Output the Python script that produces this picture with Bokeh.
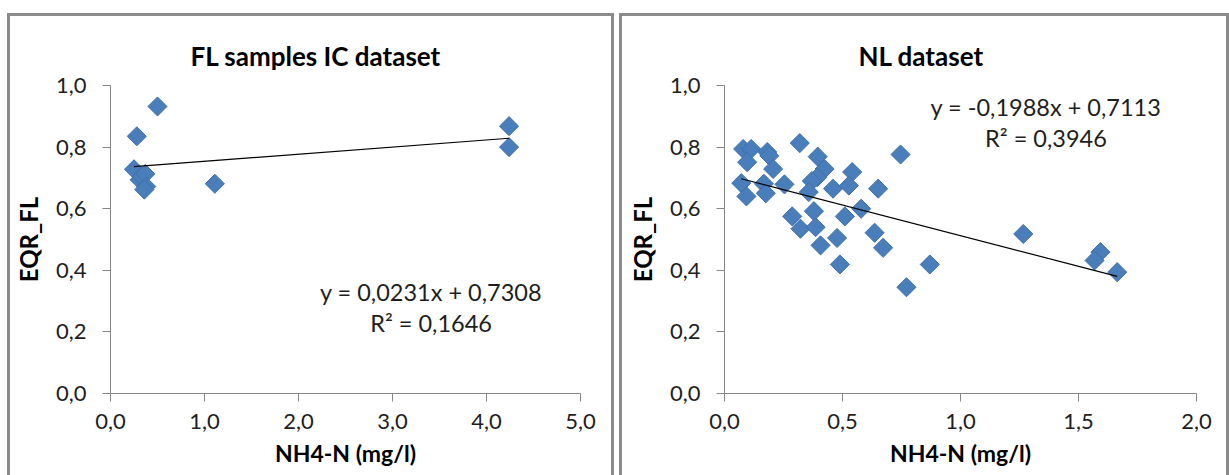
from bokeh.plotting import figure
from bokeh.models import Label, FixedTicker, CustomJSTickFormatter, Range1d, Spacer
from bokeh.layouts import row, column
from bokeh.embed import file_html
from bokeh.resources import INLINE

# ---- data ----
fl_x = [0.25, 0.28, 0.31, 0.33, 0.37, 0.38, 0.36, 0.50, 1.11, 4.24, 4.24]
fl_y = [0.728, 0.835, 0.694, 0.705, 0.713, 0.672, 0.662, 0.932, 0.681, 0.868, 0.800]
fl_slope, fl_intercept, fl_r2 = 0.0231, 0.7308, 0.1646

nl_x = [0.079, 0.113, 0.181, 0.190, 0.096, 0.319, 0.395, 0.206, 0.424, 0.541, 0.393,
        0.370, 0.071, 0.167, 0.254, 0.460, 0.527, 0.651, 0.093, 0.175, 0.357, 0.579,
        0.287, 0.379, 0.510, 0.322, 0.386, 0.636, 0.477, 0.407, 0.672, 0.489, 0.870,
        0.746, 0.771, 1.266, 1.593, 1.568, 1.664]
nl_y = [0.794, 0.794, 0.784, 0.772, 0.751, 0.813, 0.769, 0.729, 0.729, 0.719, 0.702,
        0.690, 0.683, 0.681, 0.679, 0.665, 0.675, 0.665, 0.640, 0.650, 0.654, 0.600,
        0.575, 0.592, 0.575, 0.535, 0.540, 0.522, 0.505, 0.481, 0.473, 0.419, 0.419,
        0.776, 0.345, 0.518, 0.459, 0.432, 0.394]
nl_slope, nl_intercept, nl_r2 = -0.1988, 0.7113, 0.3946

fl_xticks = [0.0, 1.0, 2.0, 3.0, 4.0, 5.0]
nl_xticks = [0.0, 0.5, 1.0, 1.5, 2.0]
yticks = [0.0, 0.2, 0.4, 0.6, 0.8, 1.0]
x_title = "NH4-N (mg/l)"
y_title = "EQR_FL"

FONT = "Lato"
fmt = CustomJSTickFormatter(code="return tick.toFixed(1).replace('.', ',');")


def fmt_num(v):
    return ("%.4f" % v).replace(".", ",")


def make_panel(title, xs, ys, slope, intercept, r2, xmax, xticks, width,
               ml, mr, title_offset, eq_x, eq_y, r2_y):
    p = figure(width=width, height=459, output_backend="svg", toolbar_location=None,
               x_range=Range1d(0, xmax), y_range=Range1d(0, 1.0),
               min_border_left=ml, min_border_right=mr, min_border_top=69,
               min_border_bottom=82,
               styles={"outline": "3px solid #8a8a8a"})
    p.outline_line_color = None
    p.grid.visible = False
    p.title.text = title
    p.title.text_font = FONT
    p.title.text_font_size = "26px"
    p.title.text_font_style = "bold"
    p.title.align = "left"
    p.title.offset = title_offset
    p.title.standoff = 28
    p.title.text_color = "black"

    for ax in (p.xaxis[0], p.yaxis[0]):
        ax.axis_line_color = "#868686"
        ax.major_tick_line_color = "#868686"
        ax.minor_tick_line_color = None
        ax.major_tick_out = 8
        ax.major_tick_in = 0
        ax.major_label_text_font = FONT
        ax.major_label_text_font_size = "22px"
        ax.major_label_text_color = "#1e1e1e"
        ax.axis_label_text_font = FONT
        ax.axis_label_text_font_style = "bold"
        ax.axis_label_text_color = "black"
        ax.formatter = fmt
    p.xaxis[0].ticker = FixedTicker(ticks=xticks)
    p.yaxis[0].ticker = FixedTicker(ticks=yticks)
    p.xaxis[0].axis_label = x_title
    p.yaxis[0].axis_label = y_title
    p.xaxis[0].axis_label_text_font_size = "23px"
    p.yaxis[0].axis_label_text_font_size = "24px"
    p.xaxis[0].major_label_standoff = 12
    p.xaxis[0].axis_label_standoff = 7
    p.yaxis[0].major_label_standoff = 16
    p.yaxis[0].axis_label_standoff = 10

    p.scatter(xs, ys, marker="square", angle=0.785398, size=13.5,
              fill_color="#4a7ebb", line_color="#3e70ae", line_width=1)

    x0, x1 = min(xs), max(xs)
    p.line([x0, x1], [slope * x0 + intercept, slope * x1 + intercept],
           line_color="black", line_width=1.2)

    sign = "-" if slope < 0 else ""
    eq = "y = %s%sx + %s" % (sign, fmt_num(abs(slope)), fmt_num(intercept))
    for txt, yy in ((eq, eq_y), ("R\u00b2 = " + fmt_num(r2), r2_y)):
        p.add_layout(Label(x=eq_x, y=yy, text=txt, text_align="center",
                           text_baseline="middle", text_font=FONT,
                           text_font_size="23.5px", text_color="#1e1e1e"))
    return p


p1 = make_panel("FL samples IC dataset", fl_x, fl_y, fl_slope, fl_intercept, fl_r2,
                5.0, fl_xticks, 601, 97, 31, 80, 3.41, 0.329, 0.228)
p2 = make_panel("NL dataset", nl_x, nl_y, nl_slope, nl_intercept, nl_r2,
                2.0, nl_xticks, 604, 102, 30, 134, 1.362, 0.929, 0.828)

layout = column(Spacer(height=16),
                row(Spacer(width=10), p1, Spacer(width=11), p2))

open("out.html", "w").write(file_html(layout, INLINE))
